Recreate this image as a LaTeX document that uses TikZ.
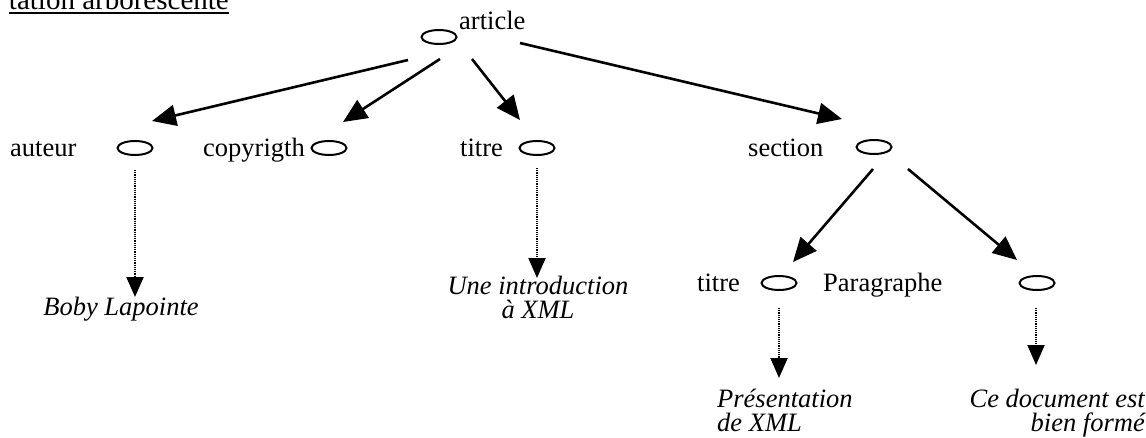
\documentclass[tikz,border=0pt]{standalone}
\usepackage{fontspec}
\setmainfont{Liberation Serif}
\usetikzlibrary{arrows.meta,shapes.geometric}
\begin{document}
\begin{tikzpicture}[x=1pt,y=-1pt,
  lbl/.style={inner sep=0pt,font=\fontsize{26.5}{25}\selectfont},
  leaf/.style={inner sep=0pt,font=\fontsize{26.5}{24}\selectfont\itshape},
  oval/.style={draw,ellipse,line width=2pt,minimum width=35pt,minimum height=14pt,inner sep=0pt},
  solidarr/.style={line width=2.6pt,-{Triangle[length=24pt,width=21pt]}},
  dotarr/.style={line width=2pt,dash pattern=on 1.2pt off 1pt,-{Triangle[length=20pt,width=17pt]}}]
\useasboundingbox (0,0) rectangle (1146,437);
\clip (0,0) rectangle (1146,437);
% title
\node[inner sep=0pt,anchor=base east,font=\fontsize{29}{30}\selectfont] (title) at (229,9) {tation arborescente};
\draw[line width=2pt] ([yshift=-4pt]title.base west) -- ([yshift=-4pt]title.base east);
% element nodes
\node[oval] (artO) at (439,37) {};
\node[lbl,anchor=base west] (art) at (459,29) {article};
\node[lbl,anchor=base west] (aut) at (10,156) {auteur};
\node[oval] (autO) at (135,148) {};
\node[lbl,anchor=base west] (cop) at (203,156) {copyrigth};
\node[oval] (copO) at (329,148) {};
\node[lbl,anchor=base west] (tit1) at (460,156) {titre};
\node[oval] (tit1O) at (537,148) {};
\node[lbl,anchor=base west] (sec) at (748,156) {section};
\node[oval] (secO) at (874,147) {};
\node[lbl,anchor=base west] (tit2) at (697,291) {titre};
\node[oval] (tit2O) at (779,283) {};
\node[lbl,anchor=base west] (par) at (823,291) {Paragraphe};
\node[oval] (parO) at (1037,283) {};
% leaves
\node[leaf,anchor=base] (boby) at (121,315) {Boby Lapointe};
\node[leaf,anchor=base,align=center] (intro) at (538,318) {Une introduction\\à XML};
\node[leaf,anchor=base west,align=left] (pres) at (717,431) {Présentation\\de XML};
\node[leaf,anchor=base east,align=right] (ce) at (1145,431) {Ce document est\\bien formé};
% connector end points
\coordinate (a1) at (408,60);  \coordinate (b1) at (152,121);
\coordinate (a2) at (440,59);  \coordinate (b2) at (343,122);
\coordinate (a3) at (472,59);  \coordinate (b3) at (520,120);
\coordinate (a4) at (520,43);  \coordinate (b4) at (842,119);
\coordinate (a5) at (873,169); \coordinate (b5) at (793,262);
\coordinate (a6) at (908,169); \coordinate (b6) at (1017,260);
\draw[solidarr] (a1) -- (b1);
\draw[solidarr] (a2) -- (b2);
\draw[solidarr] (a3) -- (b3);
\draw[solidarr] (a4) -- (b4);
\draw[solidarr] (a5) -- (b5);
\draw[solidarr] (a6) -- (b6);
% dotted value arrows
\coordinate (d1s) at (135,170); \coordinate (d1e) at (135,297);
\coordinate (d2s) at (537,168); \coordinate (d2e) at (537,278);
\coordinate (d3s) at (779,308); \coordinate (d3e) at (779,378);
\coordinate (d4s) at (1036,308); \coordinate (d4e) at (1036,365);
\draw[dotarr] (d1s) -- (d1e);
\draw[dotarr] (d2s) -- (d2e);
\draw[dotarr] (d3s) -- (d3e);
\draw[dotarr] (d4s) -- (d4e);
\end{tikzpicture}
\end{document}
